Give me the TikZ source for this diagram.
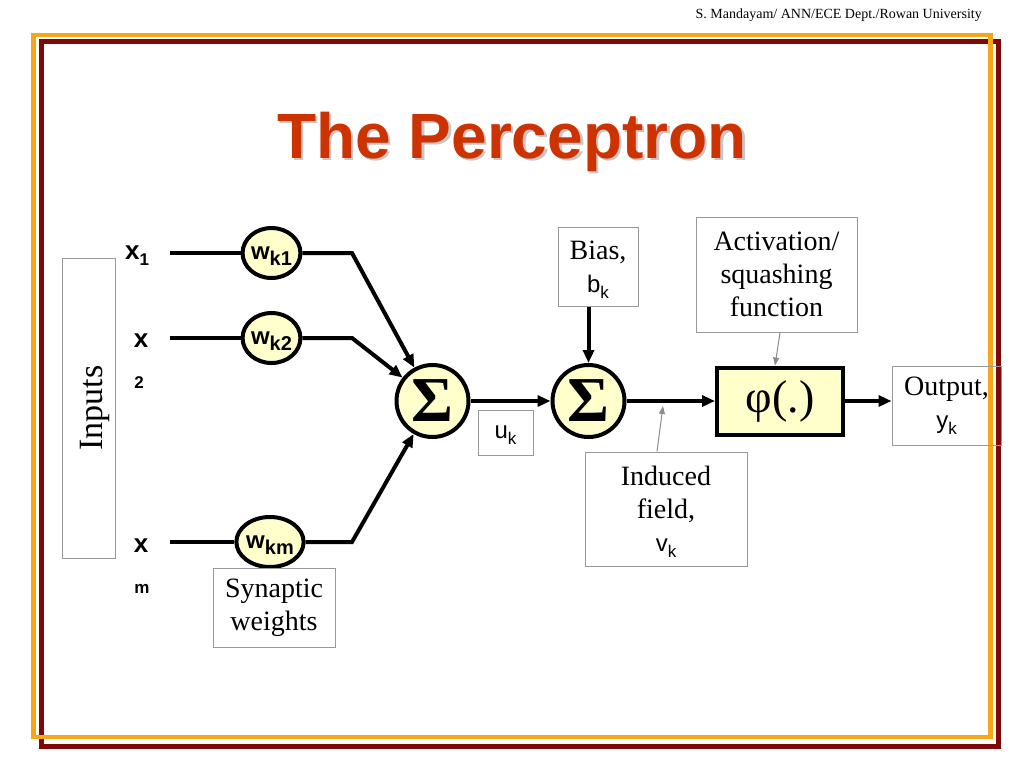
\documentclass[tikz,border=0pt]{standalone}
\usepackage{fontspec}
\setmainfont{Liberation Serif}
\setsansfont{Liberation Sans}
\usetikzlibrary{arrows.meta,positioning,shapes.geometric}
\definecolor{titlered}{RGB}{204,51,0}
\definecolor{frameorange}{RGB}{247,166,26}
\definecolor{framered}{RGB}{128,8,8}
\definecolor{cellfill}{RGB}{255,255,204}
\newcommand{\dn}[2][17]{\raisebox{-6pt}[0pt][0pt]{\fontsize{#1}{#1}\selectfont #2}}
\newcommand{\fs}[2]{\fontsize{#1}{#2}\selectfont}

\begin{document}
\begin{tikzpicture}[x=1pt,y=-1pt,
		wire/.style={line width=4pt},
		arr/.style={line width=4pt,-{Triangle[length=13pt,width=11pt]}},
		pointer/.style={draw=black!45,line width=1pt,-{Triangle[length=8pt,width=6pt]}},
		note/.style={draw=black!40,line width=1pt,align=center,inner sep=0pt,font=\fs{28}{33}},
		weight/.style={ellipse,draw,line width=4pt,fill=cellfill,minimum width=55pt,minimum height=50pt,inner sep=0pt,font=\sffamily\bfseries\fs{24}{24}},
		adder/.style={circle,draw,line width=4pt,fill=cellfill,minimum size=72pt,inner sep=0pt,font=\bfseries\fs{64}{64}},
		xlab/.style={font=\sffamily\bfseries\fs{26}{26},inner sep=0pt},
		xidx/.style={font=\sffamily\bfseries\fs{17}{17},inner sep=0pt}]
	
	\useasboundingbox (0,0) rectangle (1024,768);
	
	% slide frame
	\draw[framered,line width=5pt] (41,42) rectangle (998.5,746);
	\draw[frameorange,line width=4.5pt] (33.5,35) rectangle (990.5,737);
	\node[font=\fs{14}{14},anchor=base east,inner sep=0pt] (hdr) at (982,19) {S. Mandayam/ ANN/ECE Dept./Rowan University};
	
	% title
	\node[font=\sffamily\bfseries\fs{64}{64},text=black!22,anchor=base] at (514.5,160.5) {The Perceptron};
	\node[font=\sffamily\bfseries\fs{64}{64},text=titlered,anchor=base] (title) at (512,158) {The Perceptron};
	
	% inputs
	\node[note,rotate=90,minimum width=300pt,minimum height=53pt] (inputs) at (89,408) {};
	\node[rotate=90,font=\fs{34}{34},inner sep=0pt] (inlab) at (95,408) {Inputs};
	\node[xlab,anchor=base west] (x1) at (125,259) {x\dn[17]{1}};
	\node[xlab,anchor=base] (x2) at (141,347) {x};
	\node[xidx,anchor=base] (x2i) at (139,388) {2};
	\node[xlab,anchor=base] (xm) at (141,552) {x};
	\node[xidx,anchor=base] (xmi) at (142,593) {m};
	
	% synaptic weights
	\node[weight] (w1) at (271.5,253) {w\dn[20]{k1}};
	\node[weight] (w2) at (271.5,338) {w\dn[20]{k2}};
	\node[weight] (wm) at (270,542) {w\dn[20]{km}};
	\node[note,minimum width=122pt,minimum height=79pt] (syn) at (274,607.5) {Synaptic\\weights};
	
	\coordinate (in1) at (170,253);
	\coordinate (in2) at (170,338);
	\coordinate (inm) at (170,542);
	\coordinate (b1) at (352,253);
	\coordinate (b2) at (352,338);
	\coordinate (bm) at (352,542);
	
	% adders and activation
	\node[adder] (s1) at (432.5,401) {Σ};
	\node[adder] (s2) at (588.5,401) {Σ};
	\node[draw,line width=4pt,fill=cellfill,minimum width=126pt,minimum height=67pt,inner sep=0pt,font=\fs{46}{46}] (phi) at (780,401) {φ(.)};
	
	% labels
	\node[note,minimum width=55pt,minimum height=45pt,font=\sffamily\fs{24}{24}] (uk) at (505.5,432.5) {u\dn[17]{k}};
	\node[note,minimum width=80pt,minimum height=79pt] (bias) at (598,266.5) {Bias,\\\textsf{\fs{24}{33}b\dn[17]{k}}};
	\node[note,minimum width=161pt,minimum height=115pt] (act) at (776.5,274.5) {Activation/\\squashing\\function};
	\node[note,minimum width=109pt,minimum height=79pt] (out) at (946.5,405.5) {Output,\\\textsf{\fs{24}{33}y\dn[17]{k}}};
	\node[note,minimum width=162pt,minimum height=114pt] (ind) at (666,509) {Induced\\field,\\\textsf{\fs{24}{33}v\dn[17]{k}}};
	\coordinate (vk) at (663,406);
	
	% connections
	\draw[wire] (in1) -- (w1);
	\draw[wire] (in2) -- (w2);
	\draw[wire] (inm) -- (wm);
	\draw[arr] (w1) -- (b1) -- (s1);
	\draw[arr] (w2) -- (b2) -- (s1);
	\draw[arr] (wm) -- (bm) -- (s1);
	\draw[arr] (s1) -- (s2);
	\draw[arr] (s2 |- bias.south) -- (s2);
	\draw[arr] (s2) -- (phi);
	\draw[arr] (phi.east) -- (phi.east -| out.west);
	\draw[pointer] ([xshift=3.5pt]act.south) -- ([xshift=-5pt]phi.north);
	\draw[pointer] ([xshift=-9pt]ind.north) -- (vk);
	
\end{tikzpicture}
\end{document}
